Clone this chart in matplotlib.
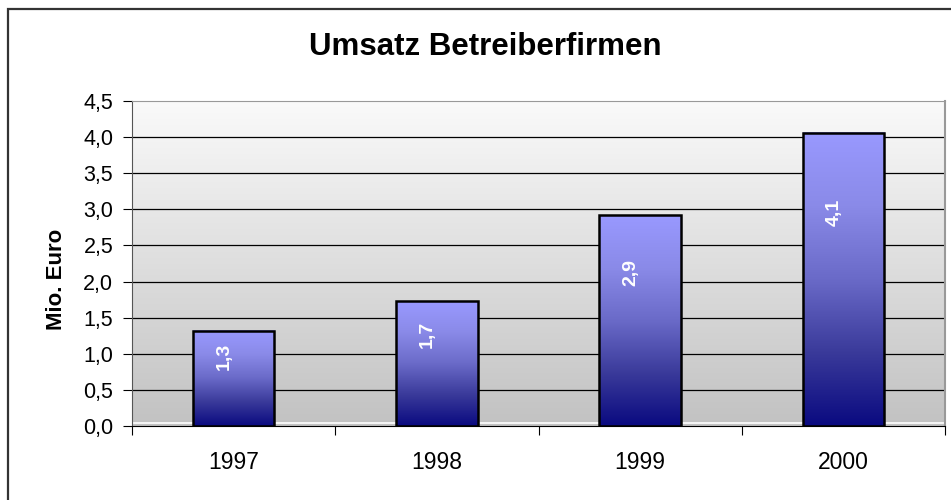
import matplotlib.pyplot as plt
import numpy as np
from matplotlib.colors import LinearSegmentedColormap
from matplotlib.patches import Rectangle

plt.rcParams["font.family"] = ["Liberation Sans", "DejaVu Sans"]

years = ["1997", "1998", "1999", "2000"]
umsatz = [1.32, 1.73, 2.92, 4.06]
labels = ["1,3", "1,7", "2,9", "4,1"]
yticks = [0.0, 0.5, 1.0, 1.5, 2.0, 2.5, 3.0, 3.5, 4.0, 4.5]
ytick_labels = ["0,0", "0,5", "1,0", "1,5", "2,0", "2,5", "3,0", "3,5", "4,0", "4,5"]

fig = plt.figure(figsize=(9.51, 5.0), dpi=100)
ax = fig.add_axes([132 / 951, 74 / 500, 813 / 951, 325 / 500])

# outer chart border
fig.patches.append(Rectangle((8 / 951, -0.05), 1.1, 1 - 9 / 500 + 0.05,
                             transform=fig.transFigure, fill=False,
                             edgecolor="#333333", lw=1.6))

x = np.arange(len(years))
ax.set_xlim(-0.5, len(years) - 0.5)
ax.set_ylim(0, 4.5)

# grey background gradient
bg = np.linspace(0, 1, 256).reshape(-1, 1)
bg_cmap = LinearSegmentedColormap.from_list("bg", ["#c2c2c2", "#fafafa"])
ax.imshow(bg, cmap=bg_cmap, origin="lower", aspect="auto",
          extent=(-0.5, len(years) - 0.5, 0, 4.5), zorder=0)

for yv in yticks[1:-1]:
    ax.axhline(yv, color="black", lw=0.9, zorder=1)
ax.axhline(0.04, color="white", lw=1.2, zorder=1)

bars = ax.bar(x, umsatz, width=0.4, facecolor="none", edgecolor="black",
              lw=1.8, zorder=3)

bar_cmap = LinearSegmentedColormap.from_list(
    "bar", ["#0a0a80", "#3a3a9a", "#6a6ac8", "#8a8ae8", "#9999ff"])
grad = np.linspace(0, 1, 256).reshape(-1, 1)
for b, lab in zip(bars, labels):
    x0, w, h = b.get_x(), b.get_width(), b.get_height()
    ax.imshow(grad, cmap=bar_cmap, origin="lower", aspect="auto",
              extent=(x0, x0 + w, 0, h), zorder=2)
    ax.text(x0 + w / 2 - 0.045, h * 0.73, lab, rotation=90, color="white",
            fontsize=14, fontweight="bold", ha="center", va="center",
            zorder=4)

ax.set_yticks(yticks)
ax.set_yticklabels(ytick_labels, fontsize=15.5)
ax.tick_params(axis="y", direction="out", length=6.5, width=0.8, pad=7)

ax.set_xticks(np.arange(len(years) + 1) - 0.5)
ax.set_xticklabels([])
ax.tick_params(axis="x", which="major", direction="out", length=6.5, width=0.8)
ax.set_xticks(x, minor=True)
ax.set_xticklabels(years, minor=True, fontsize=16.5)
ax.tick_params(axis="x", which="minor", length=0, pad=18)

ax.set_ylabel("Mio. Euro", fontsize=16, fontweight="bold")
ax.yaxis.set_label_coords(-(132 - 67) / 813, 0.45)

ax.spines["left"].set_color("#555555")
ax.spines["bottom"].set_color("black")
ax.spines["top"].set_color("#999999")
ax.spines["right"].set_color("#999999")
ax.spines["right"].set_linewidth(1.5)

fig.text(485 / 951, 1 - 47 / 500, "Umsatz Betreiberfirmen", fontsize=22.5,
         fontweight="bold", ha="center", va="center")

fig.savefig("out.png", dpi=100)
